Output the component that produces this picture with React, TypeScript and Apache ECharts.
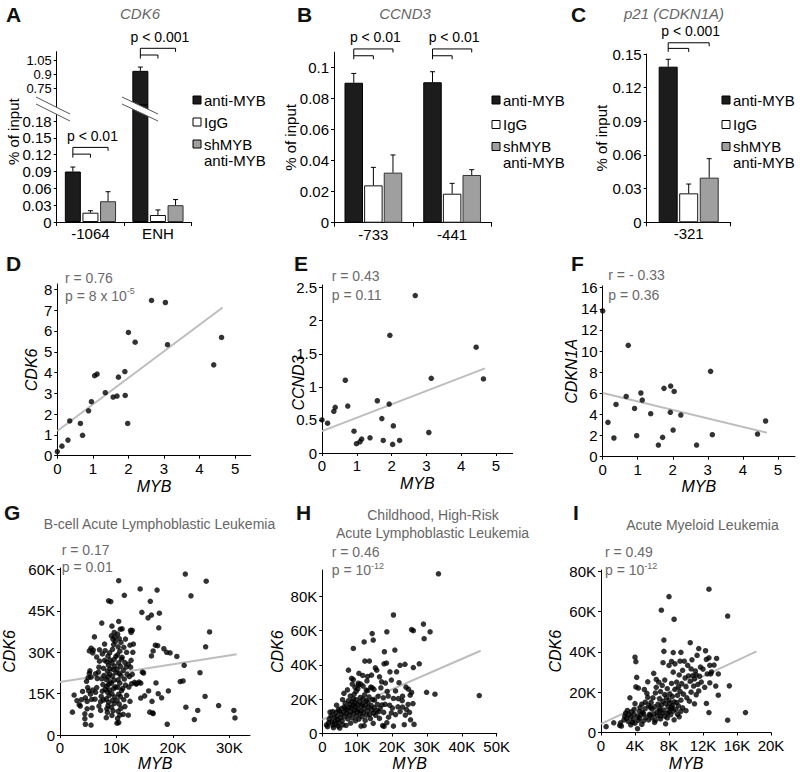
import React, { useEffect, useRef } from 'react';
import * as echarts from 'echarts';

const FONT = '"Liberation Sans", Arial, Helvetica, sans-serif';

// ---------- Panel A (CDK6 ChIP) ----------
const aSites = ['-1064', 'ENH'];
const aAnti = [0.09, 0.935];
const aAntiErr = [0.008, 0.04];
const aIgg = [0.0166, 0.0125];
const aIggErr = [0.0035, 0.009];
const aSh = [0.037, 0.03];
const aShErr = [0.017, 0.01];
const aLowTicks = [0, 0.03, 0.06, 0.09, 0.12, 0.15, 0.18];
const aHighTicks = [0.75, 0.9, 1.05];

// ---------- Panel B (CCND3 ChIP) ----------
const bSites = ['-733', '-441'];
const bAnti = [0.0903, 0.0906];
const bAntiErr = [0.006, 0.0068];
const bIgg = [0.0241, 0.0187];
const bIggErr = [0.0116, 0.0067];
const bSh = [0.0323, 0.0308];
const bShErr = [0.0114, 0.0034];
const bTicks = [0, 0.02, 0.04, 0.06, 0.08, 0.1];

// ---------- Panel C (p21 ChIP) ----------
const cSites = ['-321'];
const cAnti = [0.1387];
const cAntiErr = [0.0066];
const cIgg = [0.0258];
const cIggErr = [0.0083];
const cSh = [0.0398];
const cShErr = [0.0169];
const cTicks = [0, 0.03, 0.06, 0.09, 0.12, 0.15];

// ---------- Panels D, E, F (cell lines) ----------
const dMyb = [0, 0.13, 0.3, 0.35, 0.65, 0.71, 0.88, 0.96, 1.05, 1.12, 1.35, 1.57, 1.68, 1.72, 1.9, 1.91, 1.98, 2.0, 2.19, 2.65, 3.04, 3.1, 4.4, 4.62];
const dCdk6 = [0.2, 0.46, 0.75, 1.67, 1.55, 0.98, 2.16, 2.6, 3.85, 3.93, 3.03, 2.82, 2.87, 3.78, 4.05, 2.9, 1.55, 5.93, 5.46, 7.47, 7.37, 5.34, 4.37, 5.69];
const dFit = [[0, 1.19], [4.65, 7.13]];
const eMyb = [0, 0.16, 0.34, 0.38, 0.67, 0.74, 0.92, 0.99, 1.09, 1.14, 1.38, 1.59, 1.72, 1.76, 1.93, 1.95, 2.03, 2.05, 2.23, 2.68, 3.07, 3.14, 4.43, 4.64];
const eCcnd3 = [0.5, 0.45, 0.63, 0.69, 1.1, 0.71, 0.33, 0.14, 0.17, 0.21, 0.23, 0.79, 0.52, 0.19, 0.74, 1.78, 0.13, 0.41, 0.19, 2.38, 0.31, 1.13, 1.6, 1.12];
const eFit = [[0, 0.33], [4.68, 1.28]];
const fMyb = [0, 0.15, 0.32, 0.38, 0.67, 0.73, 0.91, 0.97, 1.09, 1.13, 1.37, 1.59, 1.71, 1.75, 1.93, 1.94, 2.01, 2.04, 2.23, 2.68, 3.08, 3.13, 4.42, 4.65];
const fCdkn1a = [13.8, 3.25, 1.77, 4.95, 5.7, 10.54, 4.57, 1.99, 6.03, 5.36, 4.07, 1.1, 1.83, 6.47, 4.2, 6.69, 2.52, 6.18, 3.94, 1.1, 8.08, 2.08, 2.14, 3.38];
const fFit = [[0, 6.03], [4.69, 2.27]];

// ---------- Panels G, H, I (patient cohorts, values in thousands) ----------
const gPoints = [
  [2.2, 8.3], [2.5, 14.5], [3.4, 11], [3.6, 10.5], [4.4, 7.7], [4.4, 5.9], [4.5, 3.9], [5.5, 3.6], [5.5, 7.1], [6.1, 35.6], [7.0, 30.9], [7.4, 40.6], [8.6, 48.7], [10.4, 56], [11.4, 50.7], [12.5, 38], [12.6, 37.2], [14.2, 53], [14.5, 44.5], [15.7, 16], [15.9, 8.3], [17.2, 52.6], [19.0, 3.9], [19.2, 16], [20.7, 28.5], [21.3, 19.4], [21.8, 19.6], [22.0, 25.3], [22.2, 58.4], [22.3, 10.1], [23.2, 50.5], [23.8, 5.6], [24.4, 8.9], [24.8, 22.6], [25.7, 14], [25.8, 32], [25.9, 55.8], [26.5, 37.4], [28.1, 10.7], [30.8, 8.9], [31.0, 6.2],
  [14.0, 19.2], [14.3, 18.8], [13.5, 18.5], [14.8, 22.5], [14.6, 22.8], [15.0, 14.2], [14.3, 13.4], [15.6, 42.5], [16.0, 48.5], [16.2, 43.5], [16.3, 12.2], [16.4, 8.0], [16.2, 28.7], [16.5, 30.5], [16.9, 32.6], [17.3, 32.4], [17.5, 38.9], [17.6, 44.2], [17.0, 18.9], [17.4, 15.0], [18.0, 13.5], [18.4, 31.3], [18.9, 30.0], [19.5, 29.8], [16.5, 7.8],
  [3.0, 12.5], [3.8, 12.8], [4.0, 15.8], [4.5, 13.5], [4.8, 12.2], [4.9, 17.2], [4.7, 19.5], [5.0, 20.8], [5.2, 22.4], [5.3, 23.3], [5.5, 21.0], [5.1, 16.0], [5.4, 14.8], [5.6, 12.9], [5.8, 16.3], [5.2, 30.5], [5.5, 31.5], [5.8, 29.8], [5.9, 30.8], [4.8, 9.5], [5.7, 9.8],
  [6.2, 13.0], [6.3, 15.5], [6.5, 17.2], [6.6, 20.5], [6.3, 22.2], [6.8, 22.8], [6.9, 24.6], [7.0, 26.8], [6.5, 28.3], [7.2, 12.1], [7.3, 14.0], [7.5, 15.9], [7.6, 18.3], [7.4, 20.4], [7.8, 21.6], [7.7, 24.2], [7.9, 27.1], [7.5, 29.4], [8.0, 30.6], [7.9, 33.0], [7.7, 12.7], [8.0, 16.6], [6.9, 10.5], [7.2, 8.9],
  [8.2, 6.3], [8.4, 8.2], [8.3, 9.5], [8.5, 10.6], [8.6, 11.9], [8.2, 13.1], [8.7, 14.3], [8.4, 15.6], [8.8, 16.3], [8.3, 17.6], [8.6, 18.4], [8.9, 19.3], [8.2, 20.1], [8.5, 21.0], [8.8, 22.1], [8.4, 23.2], [8.9, 24.0], [8.6, 25.3], [8.3, 26.5], [8.9, 27.2], [8.5, 28.6], [8.8, 29.8], [9.2, 7.1], [9.4, 8.8], [9.1, 10.1], [9.6, 11.4], [9.3, 12.6], [9.7, 13.8], [9.2, 15.0], [9.5, 16.8], [9.8, 17.5], [9.1, 18.7], [9.6, 19.9], [9.3, 21.3], [9.9, 22.6], [9.4, 23.8], [9.7, 25.0], [9.2, 26.1], [9.6, 27.4], [9.9, 28.5], [9.3, 31.1], [9.5, 32.8], [9.8, 33.9], [9.4, 34.7], [9.1, 36.0], [9.6, 37.2], [9.2, 39.5], [9.0, 48.4], [9.7, 35.5],
  [10.1, 4.3], [10.4, 4.5], [10.2, 6.0], [10.6, 7.2], [10.3, 8.6], [10.8, 9.7], [10.5, 11.2], [10.1, 12.5], [10.7, 13.9], [10.4, 14.8], [10.9, 16.1], [10.2, 17.3], [10.6, 18.8], [10.3, 20.0], [10.8, 21.5], [10.5, 22.3], [10.1, 23.8], [10.7, 24.9], [10.4, 26.2], [10.9, 27.5], [10.2, 29.1], [10.6, 30.4], [10.3, 32.0], [10.8, 33.6], [10.5, 35.0], [10.2, 36.6], [10.7, 38.4], [10.4, 41.2], [11.0, 38.5], [11.2, 7.5], [11.5, 10.3], [11.3, 12.8], [11.8, 14.4], [11.1, 16.9], [11.6, 18.1], [11.4, 20.3], [11.9, 22.0], [11.2, 23.4], [11.7, 24.6], [11.5, 26.3], [11.0, 28.2], [11.8, 30.0], [11.3, 31.8], [11.6, 34.8],
  [12.1, 7.2], [12.4, 12.2], [12.2, 17.4], [12.7, 18.6], [12.3, 21.2], [12.8, 22.0], [12.5, 24.6], [12.1, 25.7], [12.6, 27.1], [12.9, 30.0], [12.4, 32.6], [13.0, 33.0], [12.8, 38.0], [13.2, 19.1], [13.6, 18.7],
];
const gFit = [[0, 19.2], [31.3, 29.3]];

const hPoints = [
  [33.3, 93], [20.4, 69], [29.0, 63.7], [30.9, 59.2], [29.2, 55.2], [25.6, 60.5], [26.1, 59.9], [18.5, 59.2], [14.3, 58.2], [14.6, 54.4], [12.0, 53.3], [8.9, 49.5], [17.8, 47.6], [20.8, 48.6], [29.9, 24.0], [32.3, 22.9], [45.0, 22.1], [27.8, 40.6], [23.7, 40.3], [22.3, 39.7], [17.7, 40.6], [18.4, 41.0], [26.1, 38.4], [7.5, 36.9], [12.2, 42.2], [13.5, 42.2], [15.2, 38.2], [15.6, 36.9], [19.4, 35.9], [21.3, 35.9], [9.7, 24.6], [8.4, 32.1], [8.9, 31.4], [26.3, 5.3], [23.5, 5.1], [20.4, 4.3],
  [10.5, 35.0], [11.0, 28.8], [10.3, 29.3], [13.0, 33.2], [14.1, 34.0], [16.4, 33.0], [17.0, 30.1], [13.9, 27.0], [14.8, 25.7], [12.6, 25.3], [18.1, 29.4], [19.8, 31.1], [21.0, 24.8], [22.0, 29.6], [24.0, 27.0], [24.7, 25.8], [25.6, 23.9], [25.2, 22.3], [23.0, 21.7], [21.8, 20.3], [20.4, 20.4], [22.9, 19.1], [24.6, 16.9], [26.0, 17.4], [24.1, 14.0], [25.0, 12.3], [22.3, 12.8], [23.8, 10.7], [21.0, 11.0], [19.8, 12.0], [20.1, 14.8], [21.7, 15.5], [19.3, 16.5], [18.0, 17.0], [17.1, 16.6], [16.6, 14.6], [17.6, 12.3], [18.5, 6.3], [17.3, 4.6], [17.7, 4.2], [12.0, 4.6], [11.1, 4.3], [16.4, 8.8], [15.3, 10.6], [19.0, 9.5], [25.3, 8.0], [23.0, 15.4], [16.0, 21.6], [17.5, 20.8], [18.9, 21.8], [15.0, 19.5], [16.8, 26.6], [18.6, 24.5], [11.6, 33.8],
  [1.2, 5.0], [1.5, 4.0], [1.8, 6.2], [2.0, 8.3], [2.2, 12.5], [2.5, 10.2], [2.7, 6.8], [3.0, 4.9], [3.2, 3.4], [3.4, 9.6], [3.6, 7.3], [3.8, 5.5], [3.9, 12.2], [4.1, 16.5], [4.2, 10.0], [4.4, 8.0], [4.5, 4.3], [4.7, 6.4], [4.9, 13.0], [5.0, 3.2], [5.2, 9.1], [5.4, 11.3], [5.5, 14.6], [5.7, 7.4], [5.9, 5.0], [6.1, 12.2], [6.3, 15.5], [6.4, 9.8], [6.6, 17.6], [6.8, 4.7], [7.0, 11.6], [7.1, 13.7], [7.3, 8.5], [7.5, 19.1], [7.6, 15.2], [7.8, 10.8], [7.9, 17.0], [8.1, 6.0], [8.2, 12.6], [8.4, 14.8], [8.5, 18.4], [8.6, 9.1], [8.8, 16.3], [8.9, 20.1], [9.0, 11.8], [9.2, 13.5], [9.3, 17.7], [9.5, 7.4], [9.6, 15.4], [9.7, 19.7], [9.8, 10.3], [10.0, 12.7], [10.1, 16.8], [10.3, 14.1], [10.4, 28.2], [10.5, 8.4], [10.7, 18.4], [10.8, 11.5], [10.9, 21.0], [11.1, 13.0], [11.2, 15.9], [11.4, 9.8], [11.5, 17.1], [11.7, 20.0], [11.8, 12.1], [12.0, 14.8], [12.1, 22.5], [12.3, 7.6], [12.4, 16.7], [12.6, 19.2], [12.7, 10.7], [12.9, 13.3], [13.1, 18.2], [13.3, 15.4], [13.4, 21.3], [13.6, 11.2], [13.8, 8.7], [14.0, 16.3], [14.2, 13.7], [14.4, 19.7], [14.6, 5.9], [14.7, 11.9], [14.9, 15.1], [9.4, 26.9], [10.2, 26.0], [11.7, 27.6], [7.2, 25.4], [8.6, 28.8], [6.2, 23.4], [9.1, 22.8], [8.0, 21.8], [5.8, 19.7], [4.6, 13.9], [3.0, 12.8], [6.7, 14.5], [13.0, 24.9], [14.3, 26.6], [12.8, 30.6], [15.8, 16.9], [16.2, 12.8], [15.6, 13.3],
];
const hFit = [[0, 8.1], [45.4, 48.2]];

const iPoints = [
  [12.7, 71], [8.0, 67.3], [7.1, 60.6], [14.9, 57.7], [8.6, 56.1], [7.4, 45.8], [10.5, 44.5], [11.5, 41.6], [8.5, 39.6], [9.4, 39.7], [7.4, 40.2], [12.7, 37.0], [4.0, 37.3], [4.1, 35.1], [13.8, 18.5], [15.1, 23.1], [12.7, 9.9], [14.9, 6.1], [17.0, 9.9], [0.6, 2.9], [1.5, 4.8], [4.3, 1.9], [12.8, 33.3], [12.4, 36.2], [12.9, 29.0],
  [2.2, 3.5], [2.3, 4.8], [2.4, 3.2], [2.7, 6.2], [2.8, 8.1], [2.9, 9.6], [3.0, 7.0], [3.2, 5.5], [3.3, 8.8], [3.5, 7.7], [3.6, 10.2], [3.4, 17.2], [3.7, 5.0], [3.8, 6.5], [3.9, 9.0], [4.0, 14.3], [4.1, 22.6], [4.2, 27.3], [4.3, 8.0], [4.4, 6.0], [4.5, 10.5], [4.6, 12.3], [4.4, 22.0], [4.7, 8.6], [4.8, 4.0], [4.8, 14.0],
  [5.0, 5.8], [5.0, 9.3], [5.1, 21.3], [5.2, 11.8], [5.3, 7.5], [5.4, 19.4], [5.5, 17.4], [5.5, 25.1], [5.6, 13.4], [5.7, 9.0], [5.8, 8.5], [5.9, 14.8], [6.0, 11.6], [6.1, 17.2], [6.2, 29.3], [6.3, 5.0], [6.3, 12.7], [6.4, 19.6], [6.5, 22.4], [6.5, 26.3], [6.6, 10.2], [6.7, 14.0], [6.8, 24.9], [6.9, 12.0], [6.9, 16.7], [7.0, 8.3], [7.0, 20.3],
  [7.1, 13.6], [7.2, 23.3], [7.3, 34.6], [7.3, 15.5], [7.4, 11.1], [7.5, 18.8], [7.5, 26.0], [7.6, 4.3], [7.6, 14.3], [7.7, 17.2], [7.8, 9.5], [7.8, 21.7], [7.9, 12.6], [8.0, 33.2], [8.0, 16.0], [8.1, 19.0], [8.1, 14.5], [8.2, 11.6], [8.3, 35.2], [8.3, 24.3], [8.4, 13.3], [8.4, 17.9], [8.5, 10.6], [8.5, 29.9], [8.6, 15.2], [8.7, 34.0], [8.7, 21.4], [8.8, 11.4], [8.9, 25.0], [8.9, 14.8], [9.0, 18.4], [9.1, 22.6], [9.1, 13.2], [9.2, 28.5], [9.2, 7.8], [9.3, 35.3], [9.3, 20.4], [9.4, 16.0], [9.5, 24.2], [9.6, 12.2], [9.6, 30.8], [9.7, 19.0],
  [9.8, 35.3], [9.9, 27.0], [10.0, 22.7], [10.0, 10.8], [10.1, 17.2], [10.2, 33.3], [10.3, 28.0], [10.4, 15.5], [10.5, 25.4], [10.6, 31.5], [10.6, 20.0], [10.7, 36.0], [10.8, 28.2], [10.9, 23.0], [11.0, 26.6], [11.0, 14.2], [11.1, 30.5], [11.2, 18.7], [11.3, 38.2], [11.4, 23.8], [11.5, 20.6], [11.6, 27.9], [11.7, 32.4], [11.8, 25.0], [12.0, 31.4], [12.2, 22.4], [12.3, 40.5], [12.4, 14.4], [12.5, 29.0], [12.8, 24.6], [13.0, 30.0], [13.3, 33.4], [13.6, 36.7], [13.8, 29.0], [13.5, 23.0], [11.2, 28.6],
  [3.1, 10.9], [3.9, 11.5], [4.5, 7.2], [5.6, 6.2], [6.0, 7.3], [6.6, 8.4], [5.2, 15.0], [4.9, 10.0], [6.4, 6.1], [7.2, 9.7], [5.8, 12.4], [7.0, 6.7], [4.0, 4.6], [3.5, 3.8], [6.9, 10.8], [7.5, 8.1], [8.2, 8.8], [8.6, 6.3], [8.0, 10.1], [7.8, 7.2], [9.0, 9.0], [9.4, 10.5], [8.3, 12.4], [6.2, 9.2],
];
const iFit = [[0, 4.3], [18.3, 40.2]];

// ---------- helpers ----------
const C_ANTI = '#1c1c1c';
const C_IGG = '#ffffff';
const C_SH = '#9f9f9f';
const GRAY_TXT = '#6a6a6a';

const kFmt = (v: number) => (v === 0 ? '0' : `${v}K`);

function valueAxis(gridIndex: number, min: number, max: number, ticks: number[], extra: any = {}, fmt?: any, showLabels = true) {
  return {
    type: 'value',
    gridIndex,
    min,
    max,
    nameMoveOverlap: false,
    axisLine: { show: true, lineStyle: { color: '#000', width: 1 } },
    axisTick: { show: true, length: 3, customValues: ticks, lineStyle: { color: '#000', width: 1 } },
    axisLabel: {
      show: showLabels,
      customValues: ticks,
      showMinLabel: true,
      showMaxLabel: true,
      hideOverlap: false,
      color: '#000',
      fontSize: 15,
      fontFamily: FONT,
      margin: 5,
      formatter: fmt,
    },
    splitLine: { show: false },
    nameTextStyle: { color: '#000', fontSize: 15, fontFamily: FONT },
    ...extra,
  };
}

function catAxis(gridIndex: number, data: string[], show = true) {
  return {
    type: 'category',
    gridIndex,
    data,
    show,
    axisLine: { show: true, lineStyle: { color: '#000', width: 1 } },
    axisTick: { show: true, length: 4, lineStyle: { color: '#000' } },
    axisLabel: { color: '#000', fontSize: 15, fontFamily: FONT, margin: 4 },
    splitLine: { show: false },
  };
}

function bars(axis: number, width: number, gap: string, anti: any[], igg: any[], sh: any[]) {
  const common = { type: 'bar', xAxisIndex: axis, yAxisIndex: axis, barWidth: width, barGap: gap, clip: true, silent: true };
  return [
    { ...common, name: 'anti-MYB', data: anti, itemStyle: { color: C_ANTI, borderColor: '#000', borderWidth: 1 } },
    { ...common, name: 'IgG', data: igg, itemStyle: { color: C_IGG, borderColor: '#111', borderWidth: 1 } },
    { ...common, name: 'shMYB anti-MYB', data: sh, itemStyle: { color: C_SH, borderColor: '#333', borderWidth: 1 } },
  ];
}

function errorSeries(axis: number, spacing: number, data: number[][]) {
  return {
    type: 'custom',
    xAxisIndex: axis,
    yAxisIndex: axis,
    clip: false,
    silent: true,
    z: 5,
    encode: { x: 0, y: 1 },
    data,
    renderItem: (params: any, api: any) => {
      const cat = api.value(0);
      const v = api.value(1);
      const e = api.value(2);
      const s = api.value(3);
      const p = api.coord([cat, v]);
      const top = api.coord([cat, v + e])[1];
      const x = p[0] + (s - 1) * spacing;
      const st = { stroke: '#000', lineWidth: 1 };
      return {
        type: 'group',
        children: [
          { type: 'line', shape: { x1: x, y1: p[1], x2: x, y2: top }, style: st },
          { type: 'line', shape: { x1: x - 2.5, y1: top, x2: x + 2.5, y2: top }, style: st },
        ],
      };
    },
  };
}

function bracketSeries(axis: number, spacing: number, data: number[][], labels: string[]) {
  return {
    type: 'custom',
    xAxisIndex: axis,
    yAxisIndex: axis,
    clip: false,
    silent: true,
    z: 5,
    encode: { x: 0, y: 1 },
    data,
    renderItem: (params: any, api: any) => {
      const cat = api.value(0);
      const po = api.coord([cat, api.value(1)]);
      const yi = api.coord([cat, api.value(2)])[1];
      const yo = po[1];
      const x0 = po[0] - spacing;
      const x1 = po[0];
      const x2 = po[0] + spacing;
      const t = 3.5;
      const st = { stroke: '#000', lineWidth: 1, fill: null };
      return {
        type: 'group',
        children: [
          { type: 'polyline', shape: { points: [[x0, yi + t], [x0, yo], [x2, yo], [x2, yo + t]] }, style: st },
          { type: 'polyline', shape: { points: [[x0, yi], [x1, yi], [x1, yi + t]] }, style: st },
          {
            type: 'text',
            x: x1 + 2,
            y: yo - 11.5,
            style: { text: labels[params.dataIndex], align: 'center', verticalAlign: 'middle', fontSize: 14, fontFamily: FONT, fill: '#000' },
          },
        ],
      };
    },
  };
}

function scatter(axis: number, pts: number[][], fit: number[][]) {
  return [
    {
      type: 'line',
      xAxisIndex: axis,
      yAxisIndex: axis,
      data: fit,
      showSymbol: false,
      symbol: 'none',
      silent: true,
      z: 1,
      lineStyle: { color: '#bdbdbd', width: 2 },
    },
    {
      type: 'scatter',
      xAxisIndex: axis,
      yAxisIndex: axis,
      data: pts,
      symbolSize: 5.5,
      silent: true,
      z: 3,
      itemStyle: { color: '#000' },
    },
  ];
}

const zip = (xs: number[], ys: number[]) => xs.map((x, i) => [x, ys[i]]);

function txt(x: number, y: number, text: string, o: any = {}) {
  return {
    type: 'text',
    x,
    y,
    z: 100,
    style: { text, fontFamily: FONT, fontSize: 14, fill: '#000', align: 'left', verticalAlign: 'middle', ...o },
  };
}

const SUP_RICH = { s: { fontSize: 9, fontFamily: FONT, fill: GRAY_TXT, verticalAlign: 'top', lineHeight: 18 } };

function legend(x: number, ys: number[]) {
  const box = (y: number, fill: string) => ({
    type: 'rect',
    z: 100,
    shape: { x, y: y - 4, width: 8, height: 8 },
    style: { fill, stroke: '#000', lineWidth: 1 },
  });
  return [
    box(ys[0], C_ANTI), txt(x + 11, ys[0], 'anti-MYB', { fontSize: 15 }),
    box(ys[1], C_IGG), txt(x + 11, ys[1], 'IgG', { fontSize: 15 }),
    box(ys[2], C_SH), txt(x + 11, ys[2], 'shMYB', { fontSize: 15 }), txt(x + 11, ys[3], 'anti-MYB', { fontSize: 15 }),
  ];
}

function breakMark(x0: number, y0: number, w: number, dy: number, gap: number) {
  return [
    {
      type: 'polygon',
      z: 100,
      shape: { points: [[x0, y0], [x0 + w, y0 + dy], [x0 + w, y0 + dy + gap], [x0, y0 + gap]] },
      style: { fill: '#fff', stroke: null },
    },
    { type: 'line', z: 101, shape: { x1: x0, y1: y0, x2: x0 + w, y2: y0 + dy }, style: { stroke: '#555', lineWidth: 1 } },
    { type: 'line', z: 101, shape: { x1: x0, y1: y0 + gap, x2: x0 + w, y2: y0 + dy + gap }, style: { stroke: '#555', lineWidth: 1 } },
  ];
}

const A_SP = 17.6;
const B_SP = 19.6;
const C_SP = 20.5;
const A_LEFT = 56.7;

function buildOption(extraElements: any[]) {
  const grid = [
    { left: A_LEFT, top: 51.7, width: 135, height: 53.3 },
    { left: A_LEFT, top: 105, width: 135, height: 117 },
    { left: 334, top: 52.2, width: 157.5, height: 170.5 },
    { left: 646.7, top: 54, width: 84, height: 168.3 },
    { left: 57.3, top: 284, width: 193.4, height: 171.7 },
    { left: 322, top: 285, width: 190.7, height: 168 },
    { left: 602.7, top: 286, width: 192.3, height: 170.7 },
    { left: 56.7, top: 568, width: 193.3, height: 170.3 },
    { left: 322.3, top: 570, width: 174.4, height: 168.3 },
    { left: 601, top: 570, width: 170, height: 167.3 },
  ];

  const xName = (gap: number) => ({
    name: 'MYB',
    nameLocation: 'middle',
    nameGap: gap,
    nameTextStyle: { color: '#000', fontSize: 16, fontStyle: 'italic', fontFamily: FONT },
  });
  const yName = (name: string, gap: number, italic = true) => ({
    name,
    nameLocation: 'middle',
    nameGap: gap,
    nameTextStyle: { color: '#000', fontSize: italic ? 16 : 15, fontStyle: italic ? 'italic' : 'normal', fontFamily: FONT },
  });

  const xAxis = [
    catAxis(0, aSites, false),
    catAxis(1, aSites),
    catAxis(2, bSites),
    catAxis(3, cSites),
    valueAxis(4, 0, 5.44, [0, 1, 2, 3, 4, 5], xName(23)),
    valueAxis(5, 0, 5.48, [0, 1, 2, 3, 4, 5], xName(22)),
    valueAxis(6, 0, 5.49, [0, 1, 2, 3, 4, 5], xName(22)),
    valueAxis(7, 0, 33.66, [0, 10, 20, 30], xName(20), kFmt),
    valueAxis(8, 0, 50, [0, 10, 20, 30, 40, 50], xName(21.5), kFmt),
    valueAxis(9, 0, 20, [0, 4, 8, 12, 16, 20], xName(22.5), kFmt),
  ];
  const yAxis = [
    valueAxis(0, 0.573, 1.138, aHighTicks, {}, undefined, false),
    valueAxis(1, 0, 0.2086, aLowTicks),
    valueAxis(2, 0, 0.11, bTicks, yName('% of input', 36, false)),
    valueAxis(3, 0, 0.15, cTicks, yName('% of input', 38, false)),
    valueAxis(4, 0, 8.26, [0, 1, 2, 3, 4, 5, 6, 7, 8], yName('CDK6', 18)),
    valueAxis(5, 0, 2.54, [0, 0.5, 1, 1.5, 2, 2.5]),
    valueAxis(6, 0, 16.16, [0, 2, 4, 6, 8, 10, 12, 14, 16], yName('CDKN1A', 23)),
    valueAxis(7, 0, 60.6, [0, 15, 30, 45, 60], yName('CDK6', 43), kFmt),
    valueAxis(8, 0, 95.2, [0, 20, 40, 60, 80], yName('CDK6', 37), kFmt),
    valueAxis(9, 0, 80.5, [0, 20, 40, 60, 80], yName('CDK6', 38), kFmt),
  ];

  const series: any[] = [
    ...bars(0, 16, '10%', [null, aAnti[1]], [null, null], [null, null]),
    errorSeries(0, A_SP, [[1, aAnti[1], aAntiErr[1], 0]]),
    bracketSeries(0, A_SP, [[1, 1.174, 1.103]], ['p < 0.001']),
    ...bars(1, 16, '10%', aAnti, aIgg, aSh),
    errorSeries(1, A_SP, [
      [0, aAnti[0], aAntiErr[0], 0], [0, aIgg[0], aIggErr[0], 1], [0, aSh[0], aShErr[0], 2],
      [1, aIgg[1], aIggErr[1], 1], [1, aSh[1], aShErr[1], 2],
    ]),
    bracketSeries(1, A_SP, [[0, 0.133, 0.121]], ['p < 0.01']),
    ...bars(2, 18.5, '6%', bAnti, bIgg, bSh),
    errorSeries(2, B_SP, bSites.flatMap((_, i) => [
      [i, bAnti[i], bAntiErr[i], 0], [i, bIgg[i], bIggErr[i], 1], [i, bSh[i], bShErr[i], 2],
    ])),
    bracketSeries(2, B_SP, [[0, 0.1121, 0.1077], [1, 0.1121, 0.1077]], ['p < 0.01', 'p < 0.01']),
    ...bars(3, 19, '8%', cAnti, cIgg, cSh),
    errorSeries(3, C_SP, [[0, cAnti[0], cAntiErr[0], 0], [0, cIgg[0], cIggErr[0], 1], [0, cSh[0], cShErr[0], 2]]),
    bracketSeries(3, C_SP, [[0, 0.16, 0.155]], ['p < 0.001']),
    ...scatter(4, zip(dMyb, dCdk6), dFit),
    ...scatter(5, zip(eMyb, eCcnd3), eFit),
    ...scatter(6, zip(fMyb, fCdkn1a), fFit),
    ...scatter(7, gPoints, gFit),
    ...scatter(8, hPoints, hFit),
    ...scatter(9, iPoints, iFit),
  ];

  const letter = (x: number, y: number, t: string) => txt(x, y, t, { fontSize: 21, fontWeight: 'bold', fill: '#111' });
  const title = (x: number, y: number, t: string, italic = true) =>
    txt(x, y, t, { align: 'center', fontSize: italic ? 15 : 14, fontStyle: italic ? 'italic' : 'normal', fill: '#666' });
  const stat = (x: number, y: number, t: string) => txt(x, y, t, { fill: GRAY_TXT, fontSize: 14, rich: SUP_RICH, lineHeight: 18 });
  const vTitle = (x: number, y: number, t: string, italic: boolean) => ({
    type: 'text',
    x,
    y,
    rotation: Math.PI / 2,
    z: 100,
    style: { text: t, fontFamily: FONT, fontSize: italic ? 16 : 15, fontStyle: italic ? 'italic' : 'normal', fill: '#000', align: 'center', verticalAlign: 'middle' },
  });

  const elements: any[] = [
    letter(6, 14.5, 'A'), letter(297, 14.5, 'B'), letter(571, 14.5, 'C'),
    letter(6, 263, 'D'), letter(294, 263, 'E'), letter(571, 263, 'F'),
    letter(4, 512, 'G'), letter(296, 512, 'H'), letter(573, 512, 'I'),
    title(140, 13.3, 'CDK6'), title(405, 13, 'CCND3'), title(674, 13.3, 'p21 (CDKN1A)'),
    title(159.5, 524, 'B-cell Acute Lymphoblastic Leukemia', false),
    title(433, 515, 'Childhood, High-Risk', false),
    title(432.5, 532.7, 'Acute Lymphoblastic Leukemia', false),
    title(702.5, 525, 'Acute Myeloid Leukemia', false),
    stat(65, 278.3, 'r = 0.76'), stat(65, 295.5, 'p = 8 x 10{s|-5}'),
    stat(331.7, 276, 'r = 0.43'), stat(331.7, 295, 'p = 0.11'),
    stat(608.3, 275, 'r = - 0.33'), stat(608.3, 295, 'p = 0.36'),
    stat(61.7, 550, 'r = 0.17'), stat(61.7, 566.7, 'p = 0.01'),
    stat(331.7, 551.7, 'r = 0.46'), stat(331.7, 570, 'p = 10{s|-12}'),
    stat(605, 551.7, 'r = 0.49'), stat(605, 570, 'p = 10{s|-12}'),
    vTitle(13.3, 131.7, '% of input', false),
    vTitle(298.5, 383, 'CCND3', true),
    ...legend(193, [100, 122, 144, 160]),
    ...legend(492, [100, 124.5, 146.5, 162]),
    ...legend(722, [100, 124.5, 146.5, 162]),
    ...breakMark(36, 97, 34, 17, 7),
    ...breakMark(122, 97, 36, 17, 7),
    ...extraElements,
  ];

  return {
    animation: false,
    backgroundColor: '#ffffff',
    textStyle: { fontFamily: FONT },
    grid,
    xAxis,
    yAxis,
    series,
    graphic: { elements },
  };
}

export default function App() {
  const ref = useRef<HTMLDivElement>(null);
  useEffect(() => {
    const chart = echarts.init(ref.current as HTMLDivElement, null, { renderer: 'svg' });
    chart.setOption(buildOption([]) as any);
    // tick labels of the upper (broken) segment of panel A, placed with the axis scale
    const highLabels = aHighTicks.map((v) => {
      const y = chart.convertToPixel({ yAxisIndex: 0 } as any, v) as unknown as number;
      return txt(A_LEFT - 5, y, String(v), { align: 'right', fontSize: 13, lineHeight: 13 });
    });
    chart.setOption(buildOption(highLabels) as any);
    return () => chart.dispose();
  }, []);
  return (
    <div
      ref={ref}
      style={{ position: 'absolute', left: 0, top: 0, width: 800, height: 772, background: '#fff' }}
    />
  );
}
